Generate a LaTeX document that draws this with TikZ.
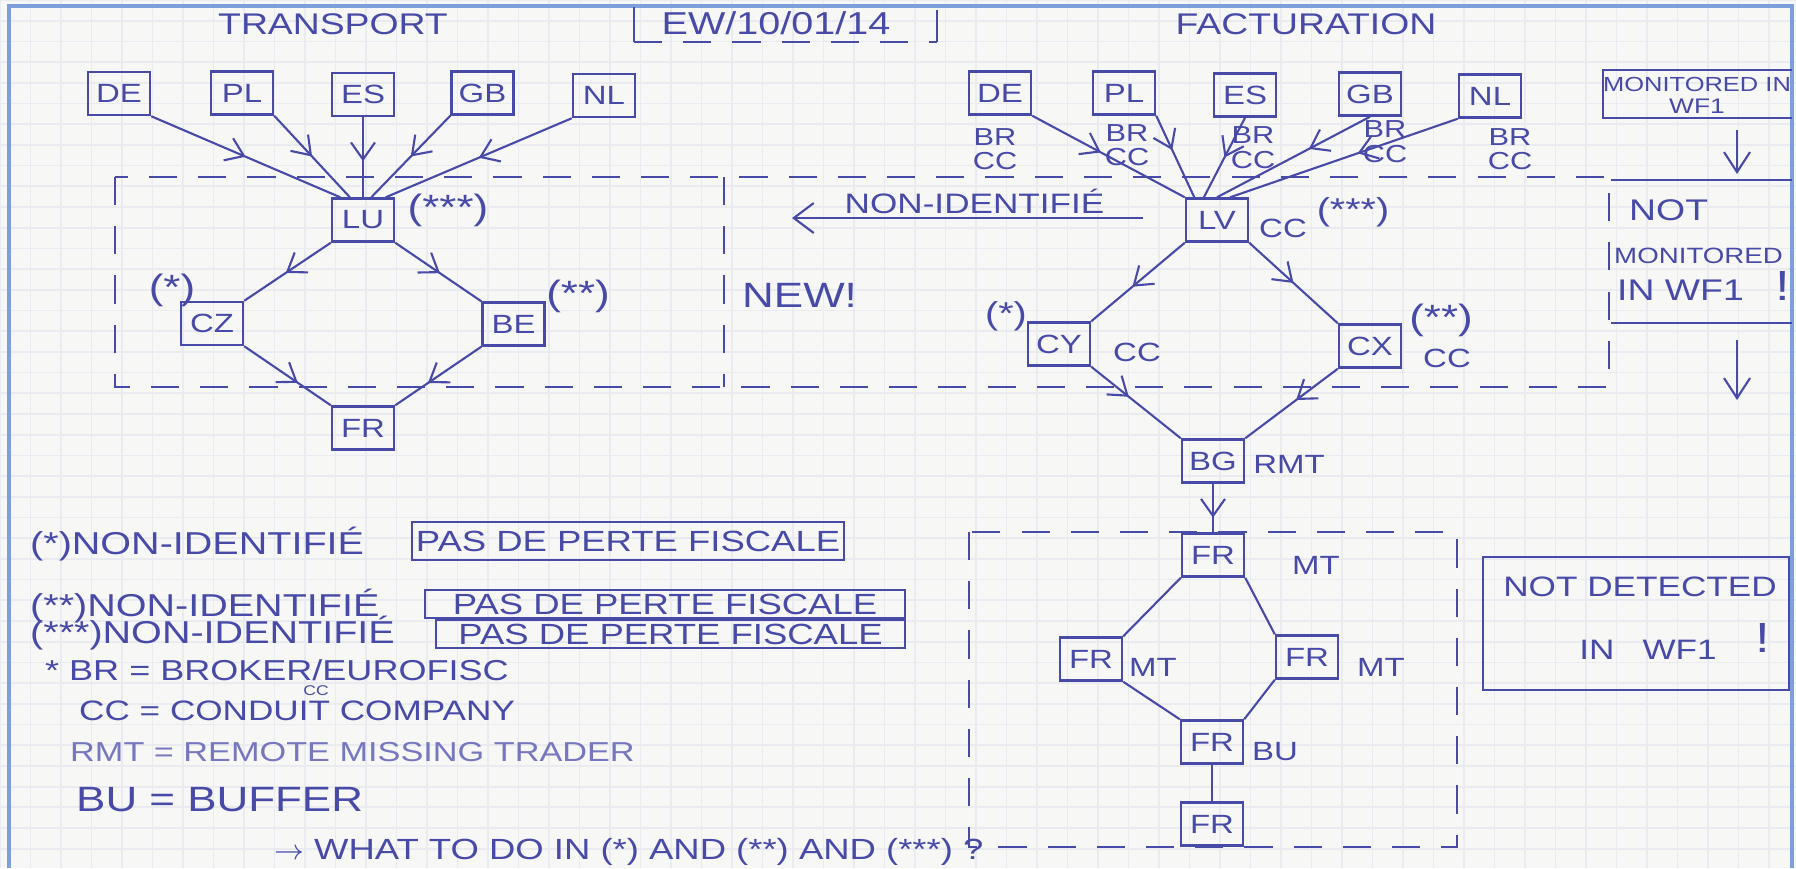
\documentclass[tikz,border=0pt]{standalone}
\usepackage{fontspec}
\setmainfont[FakeStretch=1.25]{Liberation Sans}
\usetikzlibrary{arrows.meta,decorations.markings}

\definecolor{ink}{RGB}{72,74,168}
\definecolor{paper}{RGB}{247,247,245}
\definecolor{gridblue}{RGB}{234,235,241}
\definecolor{framebl}{RGB}{125,160,220}

\newcommand{\fsz}[1]{\fontsize{#1}{#1}\selectfont}

\tikzset{
  ctry/.style={draw=ink, line width=0.7pt, text=ink, minimum width=0.62cm, minimum height=0.43cm, inner sep=1pt, font=\fsz{7.5}},
  lbl/.style={text=ink, inner sep=1pt, font=\fsz{7.5}},
  fisc/.style={draw=ink, line width=0.7pt, text=ink, inner sep=0pt, font=\fsz{8.3}},
  flow/.style={draw=ink, line width=0.6pt, postaction={decorate},
    decoration={markings, mark=at position #1 with {\arrow{Straight Barb[length=1.7mm,width=2.4mm]}}}},
  flow/.default=0.5,
  link/.style={draw=ink, line width=0.6pt},
  zone/.style={draw=ink, line width=0.8pt, dash pattern=on 8pt off 6pt},
  pen/.style={draw=ink, line width=0.8pt},
}

\begin{document}
\begin{tikzpicture}
    % Papier quadrille
    \fill[paper] (0,0) rectangle (17.96,-8.68);
    \useasboundingbox (0,0) rectangle (17.96,-8.68);
    \draw[gridblue, line width=0.5pt, xstep=0.305, ystep=0.207] (0,0) grid (17.96,-8.68);
    \draw[framebl, line width=1pt] (0.09,-8.68) -- (0.09,-0.06) -- (17.92,-0.06) -- (17.92,-8.68);

    % Titres et date
    \node[lbl, font=\fsz{8.5}] (ttltr) at (3.33,-0.24) {TRANSPORT};
    \node[lbl, font=\fsz{8.5}] (ttlfa) at (13.06,-0.24) {FACTURATION};
    \node[lbl, font=\fsz{9}] (date) at (7.76,-0.23) {EW/10/01/14};
    \draw[pen] (6.34,-0.07) -- (6.34,-0.42);
    \draw[zone] (6.34,-0.42) -- (9.37,-0.42);
    \draw[pen] (9.37,-0.42) -- (9.37,-0.10);

    % Zones en pointille
    \draw[zone] (1.15,-1.77) rectangle (16.09,-3.87);
    \draw[zone] (7.24,-1.77) -- (7.24,-3.87);
    \draw[zone] (9.69,-5.32) rectangle (14.57,-8.47);

    % Transport
    \node[ctry] (tde) at (1.19,-0.935) {DE};
    \node[ctry] (tpl) at (2.42,-0.93) {PL};
    \node[ctry] (tes) at (3.63,-0.945) {ES};
    \node[ctry] (tgb) at (4.825,-0.93) {GB};
    \node[ctry] (tnl) at (6.04,-0.955) {NL};
    \node[ctry] (tlu) at (3.63,-2.20) {LU};
    \node[ctry] (tcz) at (2.12,-3.235) {CZ};
    \node[ctry] (tbe) at (5.135,-3.24) {BE};
    \node[ctry] (tfr) at (3.63,-4.28) {FR};

    \draw[flow] (tde.south east) -- (tlu.135);
    \draw[flow] (tpl.south east) -- (tlu.120);
    \draw[flow=0.55] (tes.south) -- (tlu.north);
    \draw[flow] (tgb.south west) -- (tlu.70);
    \draw[flow] (tnl.south west) -- (tlu.45);
    \draw[flow=0.52] (tlu.south west) -- (tcz.north east);
    \draw[flow=0.52] (tlu.south east) -- (tbe.north west);
    \draw[flow=0.62] (tcz.south east) -- (tfr.north west);
    \draw[flow=0.62] (tbe.south west) -- (tfr.north east);

    \node[lbl, font=\fsz{10}] (st3l) at (4.48,-2.10) {(***)};
    \node[lbl, font=\fsz{10}] (st1l) at (1.72,-2.90) {(*)};
    \node[lbl, font=\fsz{10}] (st2l) at (5.78,-2.96) {(**)};

    % Fleche non-identifie
    \coordinate (nidfrom) at (11.43,-2.18);
    \coordinate (nidto) at (7.92,-2.18);
    \draw[link, -{Straight Barb[length=2mm,width=3mm]}] (nidfrom) -- node[lbl, above=0pt, pos=0.48, font=\fsz{8}] (nidtxt) {NON-IDENTIFIÉ} (nidto);
    \node[lbl, font=\fsz{10}, anchor=west] (newmark) at (7.38,-2.95) {NEW!};

    % Facturation
    \node[ctry] (fde) at (10.00,-0.93) {DE};
    \node[ctry] (fpl) at (11.24,-0.93) {PL};
    \node[ctry] (fes) at (12.45,-0.95) {ES};
    \node[ctry] (fgb) at (13.70,-0.94) {GB};
    \node[ctry] (fnl) at (14.90,-0.96) {NL};
    \node[ctry] (flv) at (12.17,-2.20) {LV};
    \node[ctry] (fcy) at (10.59,-3.44) {CY};
    \node[ctry] (fcx) at (13.70,-3.46) {CX};
    \node[ctry] (fbg) at (12.13,-4.61) {BG};
    \node[ctry] (mfra) at (12.13,-5.55) {FR};
    \node[ctry] (mfrl) at (10.91,-6.59) {FR};
    \node[ctry] (mfrr) at (13.07,-6.57) {FR};
    \node[ctry] (mfrm) at (12.12,-7.42) {FR};
    \node[ctry] (mfrb) at (12.12,-8.24) {FR};

    \draw[flow=0.45] (fde.south east) -- (flv.north west);
    \draw[flow=0.42] (fpl.south east) -- (flv.135);
    \draw[flow=0.5] (fes.south) -- (flv.120);
    \draw[flow=0.4] (fgb.south) -- (flv.north);
    \draw[flow=0.44] (fnl.south west) -- (flv.60);
    \draw[flow=0.56] (flv.south west) -- (fcy.north east);
    \draw[flow=0.5] (flv.south east) -- (fcx.north west);
    \draw[flow=0.42] (fcy.south east) -- (fbg.north west);
    \draw[flow=0.45] (fcx.south west) -- (fbg.north east);
    \draw[flow=0.7] (fbg.south) -- (mfra.north);
    \draw[link] (mfra.south west) -- (mfrl.north east);
    \draw[link] (mfra.south east) -- (mfrr.north west);
    \draw[link] (mfrl.south east) -- (mfrm.north west);
    \draw[link] (mfrr.south west) -- (mfrm.north east);
    \draw[link] (mfrm.south) -- (mfrb.north);

    \node[lbl, align=center, font=\fsz{7}] (brde) at (9.95,-1.49) {BR\\CC};
    \node[lbl, align=center, font=\fsz{7}] (brpl) at (11.27,-1.45) {BR\\CC};
    \node[lbl, align=center, font=\fsz{7}] (bres) at (12.53,-1.475) {BR\\CC};
    \node[lbl, align=center, font=\fsz{7}] (brgb) at (13.85,-1.415) {BR\\CC};
    \node[lbl, align=center, font=\fsz{7}] (brnl) at (15.10,-1.49) {BR\\CC};

    \node[lbl] (cclv) at (12.83,-2.28) {CC};
    \node[lbl, font=\fsz{9}] (st3r) at (13.53,-2.12) {(***)};
    \node[lbl, font=\fsz{9}] (st1r) at (10.06,-3.16) {(*)};
    \node[lbl] (cccy) at (11.37,-3.52) {CC};
    \node[lbl, font=\fsz{10}] (st2r) at (14.41,-3.20) {(**)};
    \node[lbl] (cccx) at (14.47,-3.58) {CC};
    \node[lbl] (rmt) at (12.89,-4.64) {RMT};
    \node[lbl] (mta) at (13.16,-5.65) {MT};
    \node[lbl] (mtl) at (11.53,-6.67) {MT};
    \node[lbl] (mtr) at (13.81,-6.67) {MT};
    \node[lbl] (bu) at (12.75,-7.52) {BU};

    % Suivi WF1
    \draw[pen] (17.92,-0.70) -- (16.03,-0.70) -- (16.03,-1.18) -- (17.92,-1.18);
    \node[lbl, font=\fsz{5.8}] (mona) at (16.97,-0.84) {MONITORED IN};
    \node[lbl, font=\fsz{6}] (monb) at (16.97,-1.06) {WF1};
    \coordinate (monup) at (17.37,-1.30);
    \coordinate (monlo) at (17.37,-1.74);
    \draw[link, -{Straight Barb[length=2mm,width=2.6mm]}] (monup) -- (monlo);
    \draw[pen] (16.11,-1.80) -- (17.92,-1.80);
    \draw[pen] (16.11,-3.23) -- (17.92,-3.23);
    \node[lbl, font=\fsz{8.5}, anchor=west] (nma) at (16.25,-2.10) {NOT};
    \node[lbl, font=\fsz{6.3}, anchor=west] (nmb) at (16.10,-2.56) {MONITORED};
    \node[lbl, font=\fsz{8.5}, anchor=west] (nmc) at (16.13,-2.90) {IN WF1};
    \node[lbl, font=\fsz{12}] (nmd) at (17.83,-2.86) {!};
    \coordinate (nmup) at (17.37,-3.40);
    \coordinate (nmlo) at (17.37,-4.00);
    \draw[link, -{Straight Barb[length=2mm,width=2.6mm]}] (nmup) -- (nmlo);

    \draw[pen] (14.83,-5.57) rectangle (17.89,-6.90);
    \node[lbl, font=\fsz{8}] (nda) at (16.40,-5.87) {NOT DETECTED};
    \node[lbl, font=\fsz{8}] (ndb) at (16.48,-6.50) {IN\quad WF1};
    \node[lbl, font=\fsz{12}] (ndc) at (17.63,-6.38) {!};

    % Legende
    \node[lbl, font=\fsz{9}, anchor=west] (lega) at (0.26,-5.44) {(*)NON-IDENTIFIÉ};
    \node[fisc, minimum width=4.32cm, minimum height=0.38cm] (pdfa) at (6.28,-5.41) {PAS DE PERTE FISCALE};
    \node[lbl, font=\fsz{9}, anchor=west] (legb) at (0.26,-6.06) {(**)NON-IDENTIFIÉ};
    \node[fisc, minimum width=4.80cm, minimum height=0.28cm] (pdfb) at (6.65,-6.04) {PAS DE PERTE FISCALE};
    \node[lbl, font=\fsz{9}, anchor=west] (legc) at (0.26,-6.33) {(***)NON-IDENTIFIÉ};
    \node[fisc, minimum width=4.69cm, minimum height=0.28cm] (pdfc) at (6.705,-6.34) {PAS DE PERTE FISCALE};

    \node[lbl, font=\fsz{8.2}, anchor=west] (defbr) at (0.41,-6.70) {* BR = BROKER/EUROFISC};
    \node[lbl, font=\fsz{4}, inner sep=0pt] (defbrcc) at (3.16,-6.91) {CC};
    \node[lbl, font=\fsz{8}, anchor=west] (defcc) at (0.75,-7.11) {CC = CONDUIT COMPANY};
    \node[lbl, font=\fsz{7.8}, anchor=west, text=ink!75] (defrmt) at (0.66,-7.52) {RMT = REMOTE MISSING TRADER};
    \node[lbl, font=\fsz{10}, anchor=west] (defbu) at (0.72,-8.00) {BU = BUFFER};
    \node[lbl, font=\fsz{8.3}, anchor=west] (quest) at (2.70,-8.52) {$\rightarrow$ WHAT TO DO IN (*) AND (**) AND (***) ?};
\end{tikzpicture}
\end{document}
